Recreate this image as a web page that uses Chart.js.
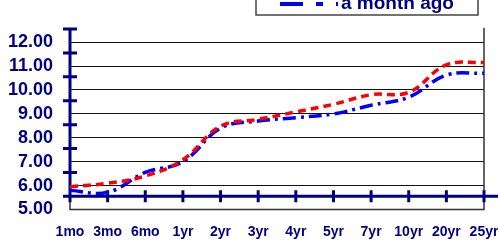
<!DOCTYPE html>
<html>
<head>
<title>Yield curve</title>
<script src="https://cdn.jsdelivr.net/npm/chart.js"></script>
<style>
    body { margin: 0; background: #fff; }
    canvas { display: block; }
</style>
</head>
<body>
<canvas id="chart" width="498" height="243"></canvas>
<script>
    // Data
    const maturities = ['1mo', '3mo', '6mo', '1yr', '2yr', '3yr', '4yr', '5yr', '7yr', '10yr', '20yr', '25yr'];
    const today = [5.95, 6.10, 6.40, 7.08, 8.48, 8.77, 9.08, 9.40, 9.80, 9.90, 11.05, 11.15];
    const monthAgo = [5.80, 5.72, 6.55, 7.00, 8.40, 8.70, 8.84, 9.00, 9.36, 9.70, 10.62, 10.70];
    const yTicks = [5, 6, 7, 8, 9, 10, 11, 12];

    const navy = '#000080';
    const axisCross = 5.55;   // where the category axis crosses the value axis
    const font = "'Liberation Sans', Arial, sans-serif";

    // thick navy axes with crossing tick marks, plus the plot frame
    const axesPlugin = {
        id: 'axes',
        beforeDatasetsDraw(chart) {
            const { ctx, chartArea: a, scales: { x, y } } = chart;
            const yc = y.getPixelForValue(axisCross);
            const yTop = y.getPixelForValue(axisCross + 7);
            ctx.save();
            // frame
            ctx.strokeStyle = '#333';
            ctx.lineWidth = 1.5;
            ctx.beginPath();
            ctx.moveTo(a.left, yc);
            ctx.lineTo(a.left, a.bottom);
            ctx.lineTo(a.right, a.bottom);
            ctx.lineTo(a.right, a.top);
            ctx.stroke();
            // axes
            ctx.strokeStyle = navy;
            ctx.lineWidth = 3;
            ctx.beginPath();
            ctx.moveTo(a.left, yTop - 1);
            ctx.lineTo(a.left, yc);
            ctx.moveTo(a.left, yc);
            ctx.lineTo(chart.width, yc);
            for (let k = 0; k <= 7; k++) {
                const py = y.getPixelForValue(axisCross + k);
                ctx.moveTo(a.left - 7, py);
                ctx.lineTo(a.left + 7, py);
            }
            maturities.forEach((m, i) => {
                const px = x.getPixelForValue(i);
                ctx.moveTo(px, yc - 6);
                ctx.lineTo(px, yc + 6);
            });
            ctx.stroke();
            ctx.restore();
        }
    };

    // boxed legend in the top right, first row falls above the picture
    const legendPlugin = {
        id: 'boxLegend',
        afterDraw(chart) {
            const ctx = chart.ctx;
            const sets = chart.data.datasets;
            const rowH = 22;
            const bottom = 15;
            ctx.save();
            ctx.strokeStyle = '#444';
            ctx.lineWidth = 1.5;
            ctx.strokeRect(256, bottom - rowH * sets.length - 6, 222, rowH * sets.length + 6);
            sets.forEach((ds, i) => {
                const ly = bottom - 11 - (sets.length - 1 - i) * rowH;
                ctx.strokeStyle = ds.borderColor;
                ctx.lineWidth = 4;
                ctx.setLineDash(ds.legendDash);
                ctx.beginPath();
                ctx.moveTo(280, ly);
                ctx.lineTo(338, ly);
                ctx.stroke();
                ctx.setLineDash([]);
                ctx.fillStyle = navy;
                ctx.font = 'bold 19px ' + font;
                ctx.textBaseline = 'alphabetic';
                ctx.fillText(ds.label, 341, ly + 5);
            });
            ctx.restore();
        }
    };

    new Chart(document.getElementById('chart'), {
        type: 'line',
        data: {
            labels: maturities,
            datasets: [{
                label: 'today',
                data: today,
                borderColor: '#ff0000',
                borderWidth: 3.5,
                borderDash: [8, 5],
                legendDash: [10, 6],
                tension: 0.4,
                pointRadius: 0,
                fill: false
            }, {
                label: 'a month ago',
                data: monthAgo,
                borderColor: '#0000ff',
                borderWidth: 3.5,
                borderDash: [13, 5, 3, 5],
                legendDash: [23, 13, 7, 13],
                tension: 0.4,
                pointRadius: 0,
                fill: false
            }]
        },
        options: {
            responsive: false,
            animation: false,
            layout: { padding: { top: 24.5, right: 14, left: 0, bottom: 0 } },
            plugins: { legend: { display: false }, tooltip: { enabled: false } },
            scales: {
                x: {
                    offset: false,
                    grid: { display: false },
                    border: { display: false },
                    ticks: {
                        color: navy,
                        font: { family: font, size: 14, weight: 'bold' },
                        maxRotation: 0,
                        minRotation: 0,
                        autoSkip: false,
                        padding: 6
                    },
                    afterFit(scale) {
                        scale.height = 33.5;
                        scale.paddingLeft = 0;
                        scale.paddingRight = 0;
                    }
                },
                y: {
                    min: 5,
                    max: 12.6,
                    afterBuildTicks(scale) {
                        scale.ticks = yTicks.map(v => ({ value: v }));
                    },
                    grid: { color: '#111', lineWidth: 1, drawTicks: false },
                    border: { display: false },
                    ticks: {
                        color: navy,
                        font: { family: font, size: 18, weight: 'bold' },
                        padding: 17,
                        callback: v => v.toFixed(2)
                    },
                    afterFit(scale) {
                        scale.width = 70;
                    }
                }
            }
        },
        plugins: [axesPlugin, legendPlugin]
    });
</script>
</body>
</html>
